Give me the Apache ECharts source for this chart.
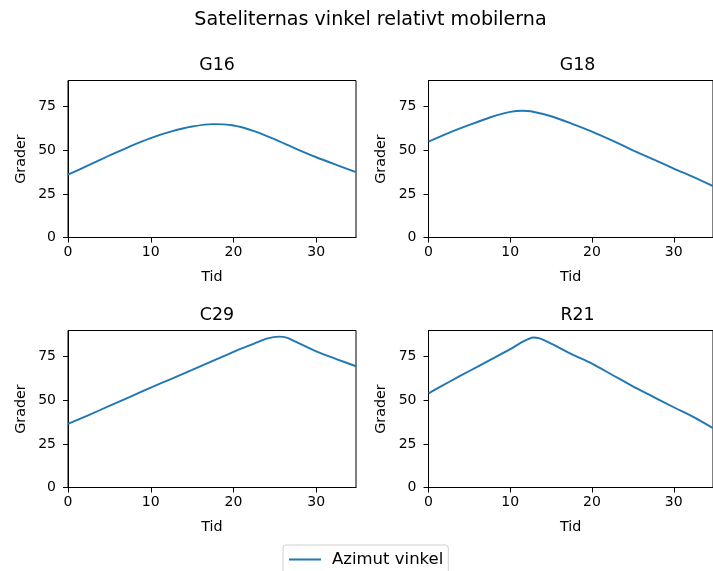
<!DOCTYPE html>
<html>
<head>
<meta charset="utf-8">
<script src="https://cdn.jsdelivr.net/npm/echarts@6/dist/echarts.min.js"></script>
<style>html,body{margin:0;padding:0;background:#fff}#c{width:713px;height:571px}</style>
</head>
<body>
<div id="c"></div>
<script>
const suptitle = 'Sateliternas vinkel relativt mobilerna';
const panelTitles = ['G16', 'G18', 'C29', 'R21'];
const seriesName = 'Azimut vinkel';
const xTicks = [0, 10, 20, 30];
const yTicks = [0, 25, 50, 75];

const g16X = [0, 2.5, 5, 7.5, 10, 12.5, 15, 17.5, 20, 22.5, 25, 27.5, 30, 32.5, 34.8];
const g16Y = [36, 41.5, 47, 52.3, 57, 60.8, 63.6, 65, 64.2, 61, 56.2, 51, 46, 41.5, 37.5];

const g18X = [0, 2.5, 5, 7.5, 10, 11.5, 12.5, 15, 17.5, 20, 22.5, 25, 27.5, 30, 32.5, 34.8];
const g18Y = [55, 60, 64.5, 68.8, 72, 72.7, 72.4, 69.5, 65.3, 60.7, 55.5, 50, 44.8, 39.5, 34.5, 29.5];

const c29X = [0, 2.5, 5, 7.5, 10, 12.5, 15, 17.5, 20, 22.5, 24, 25.5, 26.5, 27.5, 30, 32.5, 34.8];
const c29Y = [36.5, 41.5, 46.8, 52, 57.3, 62.3, 67.4, 72.6, 77.8, 82.5, 85.3, 86.5, 85.8, 83.6, 78, 73.5, 69.5];

const r21X = [0, 2.5, 5, 7.5, 10, 11.5, 12.8, 13.5, 15, 17.5, 20, 22.5, 25, 27.5, 30, 32.5, 34.8];
const r21Y = [54, 60.5, 66.8, 73, 79.3, 83.5, 86, 85.6, 82.5, 76.5, 71, 64.5, 58, 52, 46, 40.2, 34];

const xs = [g16X, g18X, c29X, r21X];
const ys = [g16Y, g18Y, c29Y, r21Y];

const FONT = 'DejaVu Sans';
const grids = [
  {left: 68, top: 80.5, width: 288, height: 157},
  {left: 428.5, top: 80.5, width: 288, height: 157},
  {left: 68, top: 330.5, width: 288, height: 157},
  {left: 428.5, top: 330.5, width: 288, height: 157}
];

const option = {
  animation: false,
  backgroundColor: '#fff',
  textStyle: {fontFamily: FONT},
  title: [{text: suptitle, left: 365.5, top: 6, textAlign: 'center',
           textStyle: {fontFamily: FONT, fontSize: 19.1, fontWeight: 'normal', color: '#000'}}]
    .concat(panelTitles.map((t, i) => ({
      text: t, left: grids[i].left + grids[i].width / 2, top: grids[i].top - 28.5, textAlign: 'center',
      textStyle: {fontFamily: FONT, fontSize: 17.4, fontWeight: 'normal', color: '#000'}
    }))),
  legend: {
    data: [seriesName], left: 283, top: 545, orient: 'horizontal',
    icon: 'rect', itemWidth: 32, itemHeight: 2, itemGap: 10,
    padding: [6, 5, 6, 6],
    borderColor: '#d0d0d0', borderWidth: 1, borderRadius: 3,
    textStyle: {fontFamily: FONT, fontSize: 16.5, color: '#000', padding: [0, 0, 0, 6]}
  },
  grid: grids.map(g => Object.assign({show: true, borderColor: '#000', borderWidth: 1, backgroundColor: 'transparent'}, g)),
  xAxis: grids.map((g, i) => ({
    type: 'value', gridIndex: i, min: 0, max: 34.8,
    name: 'Tid', nameLocation: 'middle', nameGap: 33,
    nameTextStyle: {fontFamily: FONT, fontSize: 14.3, color: '#000'},
    axisLine: {show: true, lineStyle: {color: '#000', width: 1}},
    axisTick: {show: true, length: 5, customValues: xTicks, lineStyle: {color: '#000'}},
    axisLabel: {customValues: xTicks, margin: 8, fontFamily: FONT, fontSize: 14, color: '#000'},
    splitLine: {show: false}
  })),
  yAxis: grids.map((g, i) => ({
    type: 'value', gridIndex: i, min: 0, max: 90,
    name: 'Grader', nameLocation: 'middle', nameGap: 40, nameRotate: 90,
    nameTextStyle: {fontFamily: FONT, fontSize: 14.3, color: '#000'},
    axisLine: {show: true, lineStyle: {color: '#000', width: 1}},
    axisTick: {show: true, length: 5, customValues: yTicks, lineStyle: {color: '#000'}},
    axisLabel: {customValues: yTicks, margin: 12, fontFamily: FONT, fontSize: 14, color: '#000'},
    splitLine: {show: false}
  })),
  series: xs.map((xArr, i) => ({
    name: seriesName, type: 'line', xAxisIndex: i, yAxisIndex: i,
    data: xArr.map((x, j) => [x, ys[i][j]]),
    symbol: 'none', smooth: 0.25,
    lineStyle: {color: '#1f77b4', width: 1.9},
    itemStyle: {color: '#1f77b4'}
  }))
};

const chart = echarts.init(document.getElementById('c'), null, {renderer: 'canvas'});
chart.setOption(option);
</script>
</body>
</html>
